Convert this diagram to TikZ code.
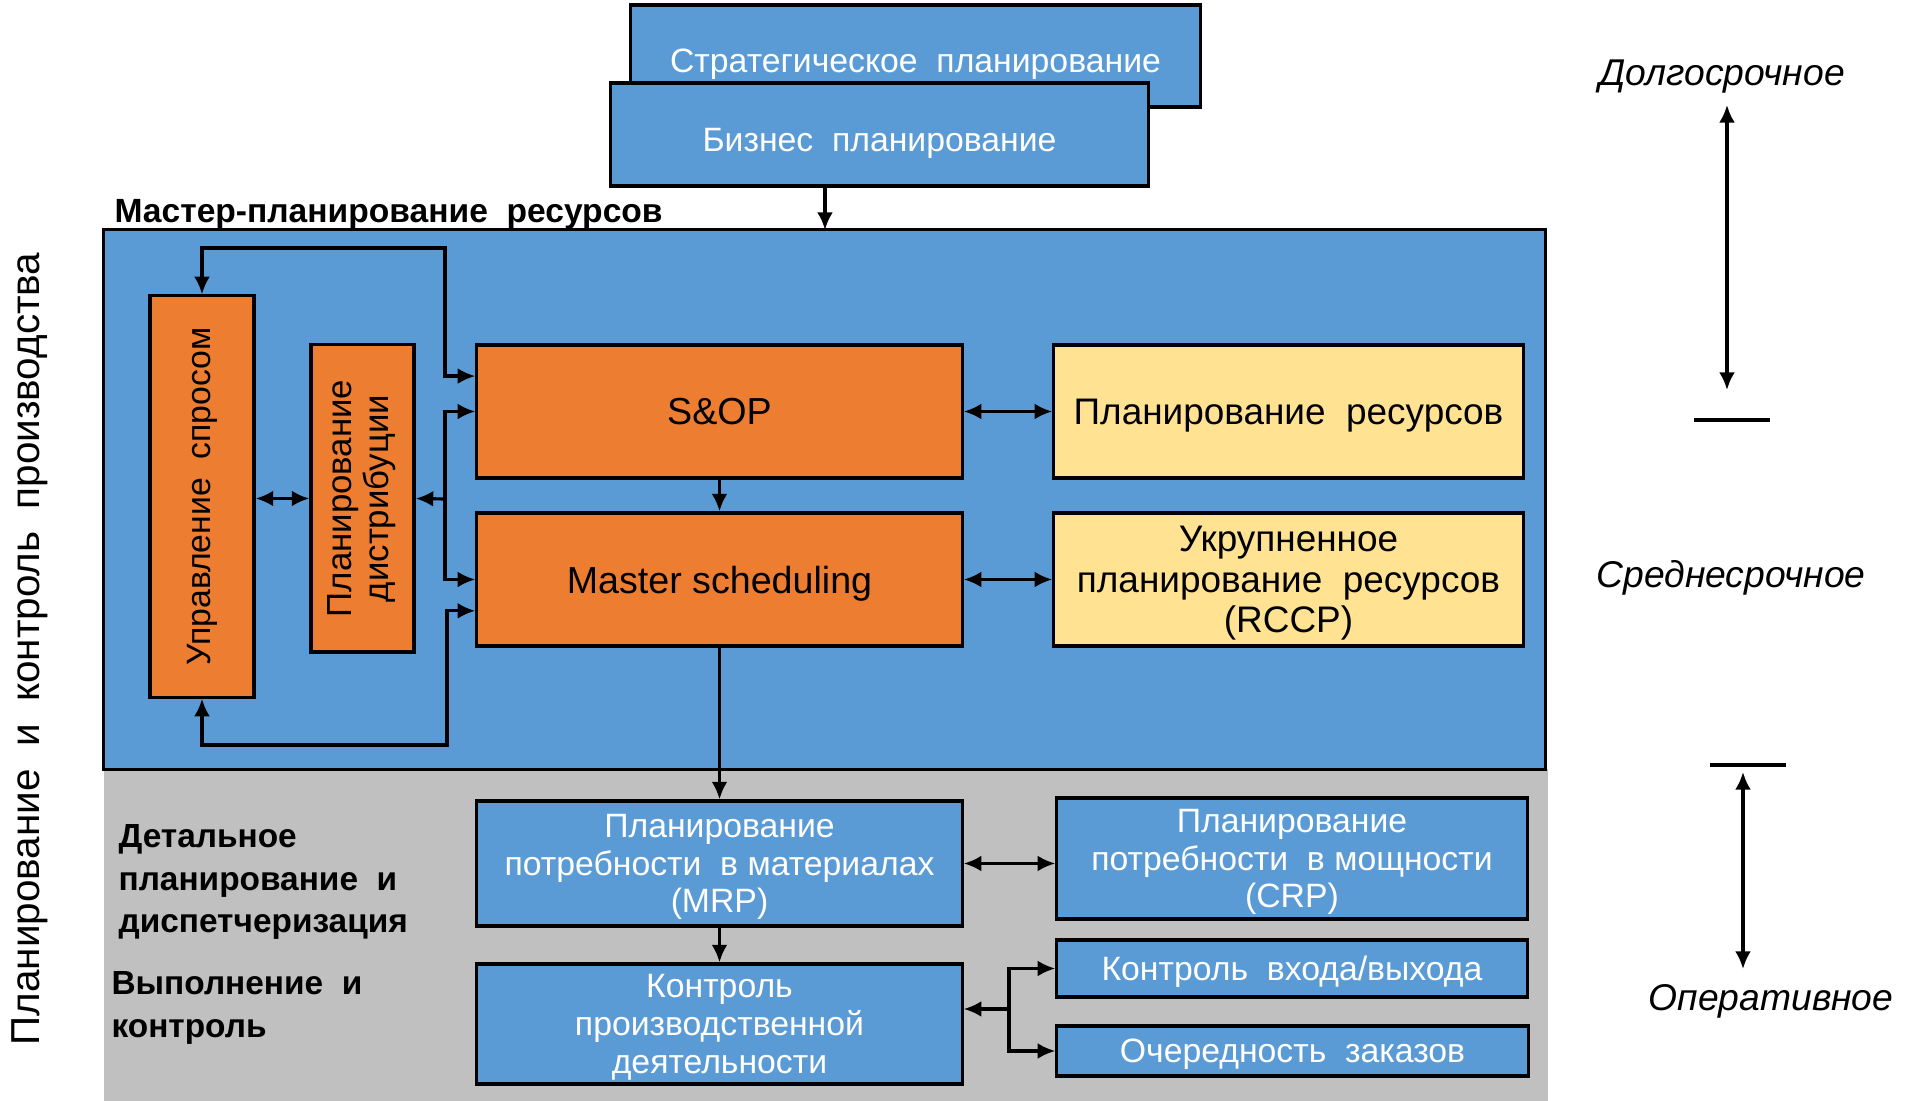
\documentclass[tikz,border=0pt]{standalone}
\usepackage{fontspec}
\setmainfont{Liberation Sans}
\usetikzlibrary{arrows.meta,calc}
\definecolor{mpblue}{RGB}{91,155,213}
\definecolor{mporange}{RGB}{237,125,49}
\definecolor{mpyellow}{RGB}{255,226,146}
\definecolor{mpgray}{RGB}{192,192,192}
\tikzset{
  planbox/.style={draw=black, line width=0.9pt, align=center, inner sep=1pt, text depth=0pt},
  bluebox/.style={planbox, fill=mpblue, text=white, font=\fontsize{9.6}{10.7}\selectfont},
  orangebox/.style={planbox, fill=mporange, font=\fontsize{10.7}{11.4}\selectfont},
  sidebox/.style={planbox, fill=mporange, font=\fontsize{9.6}{10.7}\selectfont},
  yellowbox/.style={planbox, fill=mpyellow, font=\fontsize{10.5}{11.5}\selectfont},
  zonetext/.style={font=\bfseries\fontsize{9.5}{12}\selectfont, align=left, anchor=west, inner sep=0pt},
  termtext/.style={font=\itshape\fontsize{10.6}{12}\selectfont, inner sep=0pt}
}

\begin{document}
\begin{tikzpicture}[x=0.01cm, y=-0.01cm, line width=0.9pt, >={Latex[length=5pt,width=4.5pt]}]
\useasboundingbox (0,0) rectangle (1911,1101);

\node[fill=mpgray, minimum width=14.44cm, minimum height=3.32cm, inner sep=0pt] (detail) at (826,935) {};
\node[draw=black, fill=mpblue, minimum width=14.41cm, minimum height=5.39cm, inner sep=0pt] (master) at (824.5,499.5) {};

\node[bluebox, text height=9.5pt, minimum width=5.69cm, minimum height=1.02cm] (strat) at (915.5,56) {Стратегическое\ \ планирование};
\node[bluebox, text height=9.5pt, minimum width=5.37cm, minimum height=1.03cm] (biz) at (879.5,134.5) {Бизнес\ \ планирование};
\node[zonetext, font=\bfseries\fontsize{9.55}{12}\selectfont] (mtitle) at (113,214) {Мастер-планирование\ \ ресурсов};

\node[rotate=90, font=\fontsize{11.5}{13}\selectfont, inner sep=0pt] (side) at (30,649) {Планирование\ \ и\ \ контроль\ \ производства};

\node[sidebox, minimum width=1.04cm, minimum height=4.01cm] (upr) at (202,496.5) {\rotatebox{90}{Управление\ \ спросом}};
\node[sidebox, font=\fontsize{9.9}{10.7}\selectfont, minimum width=1.03cm, minimum height=3.07cm] (dist) at (362.5,498.5) {\rotatebox{90}{\begin{tabular}{@{}c@{}}Планирование\\дистрибуции\end{tabular}}};
\node[orangebox, minimum width=4.85cm, minimum height=1.33cm] (sop) at (719.5,411.5) {S\&OP};
\node[orangebox, minimum width=4.85cm, minimum height=1.33cm] (msch) at (719.5,579.5) {Master scheduling};
\node[yellowbox, minimum width=4.69cm, minimum height=1.33cm] (res) at (1288.5,411.5) {Планирование\ \ ресурсов};
\node[yellowbox, minimum width=4.69cm, minimum height=1.33cm] (rccp) at (1288.5,579.5) {Укрупненное\\планирование\ \ ресурсов\\(RCCP)};

\node[zonetext] (dettext) at (117,882) {Детальное\\планирование\ \ и\\диспетчеризация};
\node[zonetext] (exectext) at (110,1008) {Выполнение\ \ и\\контроль};

\node[bluebox, minimum width=4.85cm, minimum height=1.25cm] (mrp) at (719.5,863.5) {Планирование\\потребности\ \ в материалах\\(MRP)};
\node[bluebox, minimum width=4.70cm, minimum height=1.21cm] (crp) at (1292,858.5) {Планирование\\потребности\ \ в мощности\\(CRP)};
\node[bluebox, minimum width=4.85cm, minimum height=1.20cm] (pac) at (719.5,1024) {Контроль\\производственной\\деятельности};
\node[bluebox, minimum width=4.70cm, minimum height=0.57cm] (io) at (1292,968.5) {Контроль\ \ входа/выхода};
\node[bluebox, minimum width=4.71cm, minimum height=0.50cm] (seq) at (1292.5,1051) {Очередность\ \ заказов};

\node[termtext] (long) at (1722,77) {Долгосрочное};
\node[termtext] (mid) at (1731,578) {Среднесрочное};
\node[termtext] (oper) at (1771,1001) {Оперативное};

\coordinate (mtop) at (825,230);
\coordinate (jtop) at (445,248);
\coordinate (jmid) at (445,499);
\coordinate (jbot) at (447,745);
\coordinate (jio) at (1009,1009);

\draw[->] (biz.south -| mtop) -- (mtop);
\draw[<->] (upr.north) |- (jtop) |- ($(sop.north west)!.24!(sop.south west)$);
\draw[<->] (upr.south) |- (jbot) |- ($(msch.north west)!.73!(msch.south west)$);
\draw[<->] (sop.west) -| (jmid) |- (msch.west);
\draw[->] (jmid) -- (dist.east);
\draw[<->] (upr.east |- dist.west) -- (dist.west);
\draw[->] (sop) -- (msch);
\draw[<->] (sop) -- (res);
\draw[<->] (msch) -- (rccp);
\draw[->] (msch) -- (mrp);
\draw[->] (mrp) -- (pac);
\draw[<->] (mrp.east) -- (mrp.east -| crp.west);
\draw[->] (jio) -- (jio -| pac.east);
\draw[->] (jio) |- (io.west);
\draw[->] (jio) |- (seq.west);

\coordinate (l1) at (1727,105);
\coordinate (l2) at (1727,390);
\coordinate (o1) at (1743,772);
\coordinate (o2) at (1743,969);
\draw[<->] (l1) -- (l2);
\draw (1694,420) -- (1770,420);
\draw (1710,765) -- (1786,765);
\draw[<->] (o1) -- (o2);
\end{tikzpicture}
\end{document}
